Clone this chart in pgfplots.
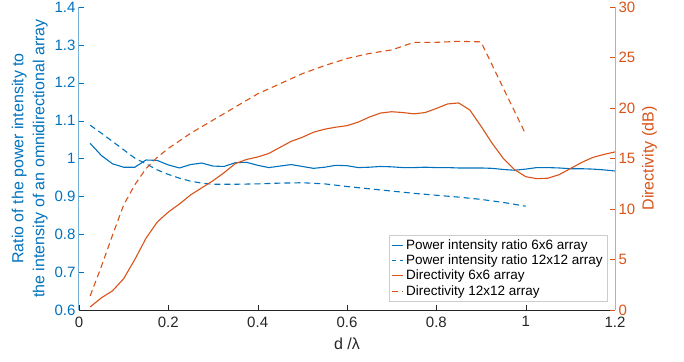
\documentclass[border=0pt]{standalone}
\usepackage{pgfplots}
\pgfplotsset{compat=1.18}
\usepackage{fontspec}
\setmainfont{Liberation Sans}
\definecolor{mblue}{rgb}{0,0.447,0.741}
\definecolor{morange}{rgb}{0.85,0.325,0.098}
\definecolor{mgray}{rgb}{0.15,0.15,0.15}
\begin{document}
\begin{tikzpicture}
\pgfplotsset{
  every axis/.append style={
    scale only axis, width=536pt, height=303pt,
    xmin=0, xmax=1.2,
    /pgf/number format/assume math mode=true,
    tick label style={font=\fontsize{15}{17}\selectfont},
    tick align=inside, major tick length=5pt,
    legend image code/.code={\draw[#1] (0pt,0pt) -- (11pt,0pt);},
  }
}
\begin{axis}[name=ax1,
  ymin=0.6, ymax=1.4,
  axis x line*=bottom, axis y line*=left,
  xtick={0,0.2,...,1.2}, ytick={0.6,0.7,...,1.4},
  x axis line style={mgray, line width=0.6pt},
  y axis line style={mblue!55, line width=1pt},
  xtick style={mgray}, ytick style={mblue},
  xticklabel style={text=mgray, yshift=-3pt},
  yticklabel style={text=mblue},
  xlabel={d /λ},
  xlabel style={font=\fontsize{16}{18}\selectfont, text=mgray, yshift=-4pt},
  ylabel={Ratio of the power intensity to\\the intensity of an omnidirectional array},
  ylabel style={font=\fontsize{16}{21}\selectfont, text=mblue, align=center},
]
\addplot[mblue, line width=1.1pt] coordinates {
(0.025,1.040) (0.05,1.008) (0.075,0.986) (0.1,0.977) (0.125,0.977) (0.15,0.996)
(0.175,0.995) (0.2,0.983) (0.225,0.975) (0.25,0.984) (0.275,0.988) (0.3,0.980)
(0.325,0.979) (0.35,0.989) (0.375,0.990) (0.4,0.982) (0.425,0.976) (0.45,0.980)
(0.475,0.984) (0.5,0.979) (0.525,0.974) (0.55,0.977) (0.575,0.982) (0.6,0.981)
(0.625,0.976) (0.65,0.977) (0.675,0.979) (0.7,0.978) (0.725,0.976) (0.75,0.976)
(0.775,0.977) (0.8,0.976) (0.825,0.976) (0.85,0.975) (0.875,0.975) (0.9,0.975)
(0.925,0.974) (0.95,0.971) (0.975,0.969) (1.0,0.972) (1.025,0.976) (1.05,0.976)
(1.075,0.975) (1.1,0.973) (1.125,0.973) (1.15,0.972) (1.175,0.970) (1.2,0.967)
};
\addplot[mblue, line width=1.1pt, dash pattern=on 6pt off 4pt] coordinates {
(0.025,1.088) (0.05,1.067) (0.075,1.045) (0.1,1.023) (0.125,1.001) (0.15,0.986)
(0.175,0.970) (0.2,0.958) (0.225,0.948) (0.25,0.940) (0.275,0.935) (0.3,0.932)
(0.35,0.932) (0.4,0.933) (0.45,0.935) (0.5,0.936) (0.55,0.933) (0.6,0.926)
(0.65,0.920) (0.7,0.914) (0.75,0.908) (0.8,0.903) (0.85,0.898) (0.9,0.892)
(0.95,0.884) (1.0,0.874)
};
\end{axis}
\begin{axis}[name=ax2,
  ymin=0, ymax=30,
  axis x line=none, axis y line*=right,
  ytick={0,5,...,30},
  y axis line style={morange!55, line width=1pt},
  ytick style={morange},
  yticklabel style={text=morange},
  ylabel={Directivity (dB)},
  ylabel style={font=\fontsize{16}{18}\selectfont, text=morange},
  legend cell align=left,
  legend style={at={(rel axis cs:0.985,0.03)}, anchor=south east,
    font=\fontsize{13.5}{15}\selectfont, draw=black!20, fill=white,
    inner xsep=2pt, inner ysep=2pt, row sep=0pt,
    /tikz/every odd column/.append style={column sep=1pt}},
]
\addlegendimage{mblue, line width=1.1pt}
\addlegendentry{Power intensity ratio 6x6 array}
\addlegendimage{mblue, line width=1.1pt, dash pattern=on 4pt off 4pt}
\addlegendentry{Power intensity ratio 12x12 array}
\addplot[morange, line width=1.1pt] coordinates {
(0.025,0.3) (0.05,1.2) (0.075,1.9) (0.1,3.1) (0.125,5.0) (0.15,7.1)
(0.175,8.7) (0.2,9.7) (0.225,10.5) (0.25,11.4) (0.275,12.1) (0.3,12.8)
(0.325,13.6) (0.35,14.5) (0.375,14.9) (0.4,15.15) (0.425,15.5) (0.45,16.1)
(0.475,16.7) (0.5,17.1) (0.525,17.6) (0.55,17.9) (0.575,18.1) (0.6,18.25)
(0.625,18.6) (0.65,19.1) (0.675,19.5) (0.7,19.63) (0.725,19.55) (0.75,19.42)
(0.775,19.55) (0.8,19.95) (0.825,20.4) (0.85,20.5) (0.875,19.8) (0.9,18.2)
(0.925,16.5) (0.95,15.0) (0.975,13.9) (1.0,13.2) (1.025,13.0) (1.05,13.05)
(1.075,13.4) (1.1,14.0) (1.125,14.6) (1.15,15.1) (1.175,15.4) (1.2,15.65)
};
\addlegendentry{Directivity 6x6 array}
\addplot[morange, line width=1.1pt, dash pattern=on 6pt off 4pt] coordinates {
(0.025,1.4) (0.05,4.3) (0.075,7.4) (0.1,10.4) (0.125,12.4) (0.15,14.0)
(0.175,15.1) (0.2,16.0) (0.25,17.5) (0.3,18.8) (0.35,20.1) (0.4,21.4)
(0.45,22.4) (0.5,23.4) (0.55,24.2) (0.6,24.9) (0.65,25.4) (0.7,25.75)
(0.75,26.5) (0.8,26.5) (0.85,26.6) (0.9,26.55) (0.95,21.95) (1.0,17.4)
};
\addlegendentry{Directivity 12x12 array}
\end{axis}
\pgfresetboundingbox
\useasboundingbox ([xshift=-79pt,yshift=-52pt]ax1.south west) rectangle ([xshift=69pt,yshift=7pt]ax1.north east);
\end{tikzpicture}
\end{document}
